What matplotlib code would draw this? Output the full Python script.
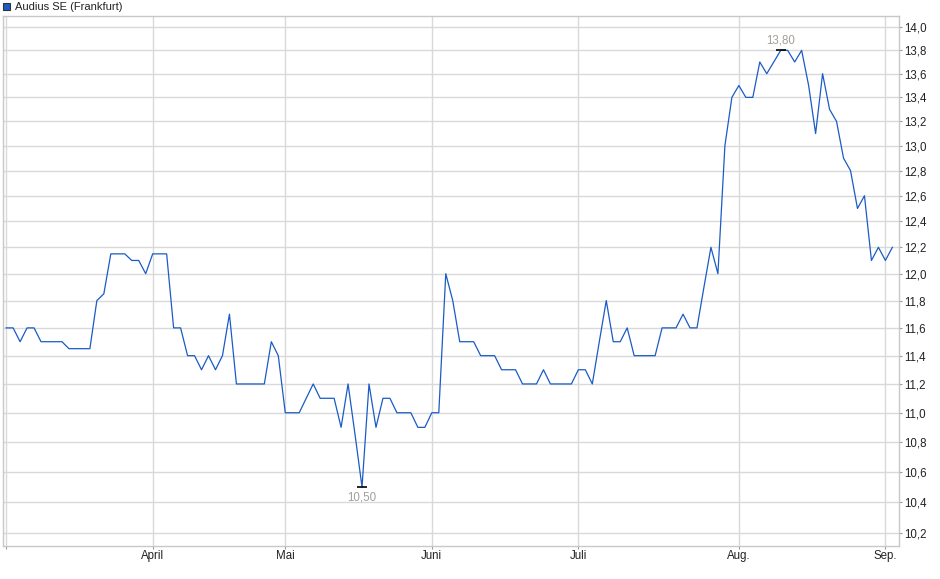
import matplotlib
matplotlib.use('Agg')
import matplotlib.pyplot as plt
from matplotlib.patches import Rectangle
from matplotlib.ticker import FixedLocator, FixedFormatter, NullLocator

plt.rcParams['font.family'] = ['Liberation Sans', 'DejaVu Sans']

# daily closing prices, one per trading day (early March to 2 Sep)
prices = [11.6, 11.6, 11.5, 11.6, 11.6, 11.5, 11.5, 11.5, 11.5, 11.45,
          11.45, 11.45, 11.45, 11.8, 11.85, 12.15, 12.15, 12.15, 12.1, 12.1,
          12.0, 12.15, 12.15, 12.15, 11.6, 11.6, 11.4, 11.4, 11.3, 11.4,
          11.3, 11.4, 11.7, 11.2, 11.2, 11.2, 11.2, 11.2, 11.5, 11.4,
          11.0, 11.0, 11.0, 11.1, 11.2, 11.1, 11.1, 11.1, 10.9, 11.2,
          10.85, 10.5, 11.2, 10.9, 11.1, 11.1, 11.0, 11.0, 11.0, 10.9,
          10.9, 11.0, 11.0, 12.0, 11.8, 11.5, 11.5, 11.5, 11.4, 11.4,
          11.4, 11.3, 11.3, 11.3, 11.2, 11.2, 11.2, 11.3, 11.2, 11.2,
          11.2, 11.2, 11.3, 11.3, 11.2, 11.5, 11.8, 11.5, 11.5, 11.6,
          11.4, 11.4, 11.4, 11.4, 11.6, 11.6, 11.6, 11.7, 11.6, 11.6,
          11.9, 12.2, 12.0, 13.0, 13.4, 13.5, 13.4, 13.4, 13.7, 13.6,
          13.7, 13.8, 13.8, 13.7, 13.8, 13.5, 13.1, 13.6, 13.3, 13.2,
          12.9, 12.8, 12.5, 12.6, 12.1, 12.2, 12.1, 12.2]

# first trading day of each month (index into prices)
month_idx = [0, 21, 40, 61, 82, 105, 126]
month_labels = ['', 'April', 'Mai', 'Juni', 'Juli', 'Aug.', 'Sep.']

y_ticks = [10.2, 10.4, 10.6, 10.8, 11.0, 11.2, 11.4, 11.6, 11.8, 12.0,
           12.2, 12.4, 12.6, 12.8, 13.0, 13.2, 13.4, 13.6, 13.8, 14.0]

line_col = '#1a5bc6'
grid_col = '#d9d9d9'

fig = plt.figure(figsize=(9.4, 5.79), dpi=100)
ax = fig.add_axes([3 / 940, 1 - 546 / 579, 896 / 940, 530 / 579])

x = list(range(len(prices)))
ax.plot(x, prices, color=line_col, lw=0.9, zorder=3)

ax.set_yscale('log')
ax.set_ylim(10.12, 14.1)
ax.set_xlim(-0.45, 127.95)

ax.yaxis.set_major_locator(FixedLocator(y_ticks))
ax.yaxis.set_major_formatter(FixedFormatter([('%.1f' % v).replace('.', ',') for v in y_ticks]))
ax.yaxis.set_minor_locator(NullLocator())
ax.yaxis.tick_right()
ax.set_xticks(month_idx)
ax.set_xticklabels(month_labels)

ax.grid(True, color=grid_col, lw=1.0, zorder=0)
for s in ax.spines.values():
    s.set_color('#c8c8c8')
    s.set_linewidth(1.0)
ax.tick_params(axis='both', labelsize=8.3, colors='#222222', length=2.5, width=0.8, pad=1.2)
ax.tick_params(axis='x', pad=0.5)
ax.tick_params(axis='both', color='#999999')

# min / max markers
i_max = prices.index(max(prices))
i_min = prices.index(min(prices))
ax.plot([i_max], [prices[i_max]], marker='_', ms=6.5, mew=1.2, color='black', zorder=4)
ax.plot([i_min], [prices[i_min]], marker='_', ms=6.5, mew=1.2, color='black', zorder=4)
ax.annotate(('%.2f' % prices[i_max]).replace('.', ','), (i_max, prices[i_max]),
            xytext=(0, 7), textcoords='offset points', ha='center', va='center',
            fontsize=8.3, color='#a39e98')
ax.annotate(('%.2f' % prices[i_min]).replace('.', ','), (i_min, prices[i_min]),
            xytext=(0, -7.5), textcoords='offset points', ha='center', va='center',
            fontsize=8.3, color='#a39e98')

# legend box top-left
fig.patches.append(Rectangle((3 / 940, 1 - 10 / 579), 7 / 940, 7 / 579,
                             transform=fig.transFigure, facecolor=line_col,
                             edgecolor='#333333', lw=0.8))
fig.text(15 / 940, 1 - 6.5 / 579, 'Audius SE (Frankfurt)', fontsize=8,
         color='#222222', va='center', ha='left')

fig.savefig('out.png', dpi=100)
